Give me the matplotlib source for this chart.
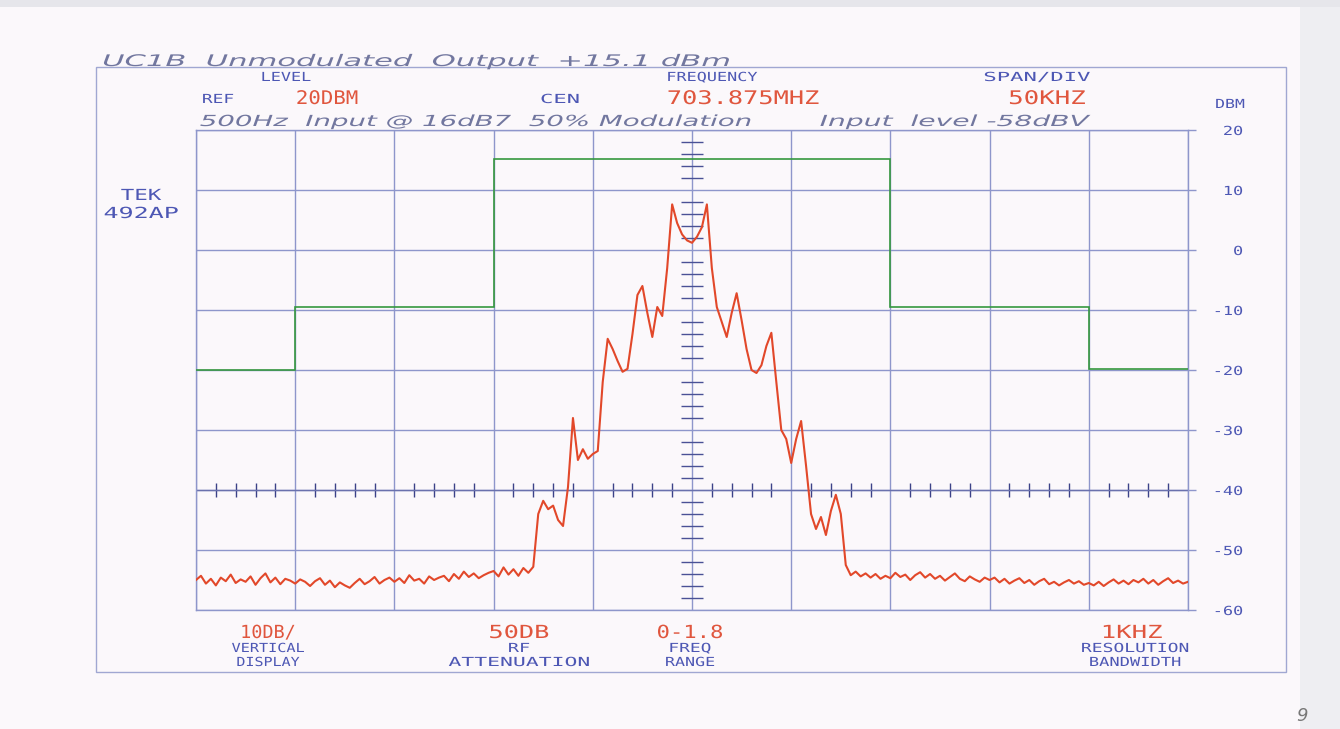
import numpy as np
import matplotlib
matplotlib.use("Agg")
import matplotlib.pyplot as plt
import matplotlib.patheffects as pe
from matplotlib.transforms import Affine2D
from matplotlib.patches import Rectangle

#################
#### Datos ######
#################
span_khz = [-250, 250]          # 50 kHz/div, centro 703.875 MHz
nivel_dbm = [-60, 20]           # 10 dB/div, ref 20 dBm
ticks_dbm = [20, 10, 0, -10, -20, -30, -40, -50, -60]

# mascara verde (escalones)
mascara_bordes_khz = [-250, -200, -100, 100, 200, 250]
mascara_dbm = [-20, -9.5, 15.2, -9.5, -19.8]

# trazo rojo: una muestra cada 2.5 kHz, de -250 a +250 kHz
paso_khz = 2.5
traza_dbm = [
    -55.0, -54.3, -55.6, -54.8, -55.9, -54.6, -55.2, -54.1, -55.5, -54.9,
    -55.3, -54.4, -55.8, -54.7, -53.9, -55.4, -54.6, -55.7, -54.8, -55.1,
    -55.6, -54.9, -55.3, -56.0, -55.2, -54.7, -55.8, -55.1, -56.2, -55.4,
    -55.9, -56.3, -55.5, -54.8, -55.7, -55.2, -54.5, -55.6, -55.0, -54.6,
    -55.3, -54.7, -55.5, -54.2, -55.1, -54.8, -55.6, -54.4, -55.0, -54.6,
    -54.3, -55.2, -54.0, -54.8, -53.6, -54.5, -53.9, -54.7, -54.2, -53.8,
    -53.5, -54.4, -52.9, -54.1, -53.2, -54.3, -53.0, -53.8, -52.8, -44.0,
    -41.8, -43.2, -42.6, -45.0, -46.0, -39.5, -28.0, -35.0, -33.2, -34.8,
    -34.0, -33.5, -22.0, -14.8, -16.5, -18.5, -20.3, -19.8, -14.0, -7.5,
    -6.0, -10.5, -14.5, -9.5, -11.0, -3.0, 7.6, 4.5, 2.6, 1.6,
    1.2, 2.2, 3.8, 7.6, -3.0, -9.5, -12.0, -14.5, -10.5, -7.2,
    -11.7, -16.5, -20.0, -20.5, -19.2, -16.0, -13.8, -22.0, -30.0, -31.5,
    -35.5, -31.5, -28.5, -36.0, -44.0, -46.5, -44.5, -47.5, -43.5, -40.8,
    -44.0, -52.5, -54.2, -53.6, -54.4, -53.9, -54.6, -54.0, -54.8, -54.3,
    -54.7, -53.8, -54.5, -54.1, -55.0, -54.2, -53.7, -54.6, -54.0, -54.8,
    -54.3, -55.1, -54.5, -53.9, -54.8, -55.2, -54.4, -54.9, -55.3, -54.6,
    -55.0, -54.6, -55.4, -54.8, -55.6, -55.1, -54.7, -55.5, -55.0, -55.8,
    -55.2, -54.8, -55.7, -55.3, -55.9, -55.4, -55.0, -55.6, -55.2, -55.8,
    -55.5, -55.9, -55.3, -56.0, -55.4, -54.9, -55.6, -55.1, -55.7, -55.0,
    -55.4, -54.8, -55.6, -55.0, -55.8, -55.2, -54.7, -55.5, -55.1, -55.6,
    -55.3,
]
traza_khz = span_khz[0] + paso_khz * np.arange(len(traza_dbm))

# colores
azul = "#4d57b4"
rojo_txt = "#e0563e"
rojo = "#e2482a"
verde = "#36983f"
reticula = "#8e96cb"
tinta = "#72779f"
papel = "#fbf8fb"

#################
### Utilidades ##
#################
class Estirar(pe.AbstractPathEffect):
    """Estira el texto en x (letra ancha de plotter)."""
    def __init__(self, ancho=None, factor=None, ancla="center"):
        super().__init__()
        self.ancho = ancho
        self.factor = factor
        self.ancla = ancla

    def draw_path(self, renderer, gc, tpath, affine, rgbFace=None):
        ext = tpath.get_extents()
        if self.ancho is not None:
            esc = affine.get_matrix()[0, 0]
            sx = self.ancho / max((ext.x1 - ext.x0) * esc, 1e-6)
        else:
            sx = self.factor
        cx = {"left": ext.x0, "right": ext.x1}.get(self.ancla, (ext.x0 + ext.x1) / 2)
        tr = Affine2D().translate(-cx, 0).scale(sx, 1).translate(cx, 0) + affine
        renderer.draw_path(gc, tpath, tr, rgbFace)


fig = plt.figure(figsize=(13.4, 7.29), dpi=100, facecolor=papel)

# hoja en pixeles
hoja = fig.add_axes([0, 0, 1, 1], zorder=0)
hoja.set_xlim(0, 1340)
hoja.set_ylim(729, 0)
hoja.axis("off")
hoja.add_patch(Rectangle((1300, 0), 40, 729, color="#eeeef2", lw=0))
hoja.add_patch(Rectangle((0, 0), 1340, 7, color="#e6e6eb", lw=0))
hoja.add_patch(Rectangle((96, 67), 1190, 605, fill=False, ec="#a0a7d2", lw=1.0))


def rotulo(x, y, s, ancho, color, size, ha="center", family="DejaVu Sans Mono", style="normal"):
    t = hoja.text(x, y, s, ha=ha, va="baseline", color=color, fontsize=size,
                  family=family, style=style)
    t.set_path_effects([Estirar(ancho=ancho, ancla=ha)])
    return t


# encabezado del analizador
rotulo(286, 81, "LEVEL", 48, azul, 9)
rotulo(712, 81, "FREQUENCY", 89, azul, 9)
rotulo(1037, 81, "SPAN/DIV", 105, azul, 9)
rotulo(218, 103, "REF", 30, azul, 9)
rotulo(560, 103, "CEN", 37, azul, 9)
rotulo(327, 104, "20DBM", 60, rojo_txt, 13.5)
rotulo(743, 104, "703.875MHZ", 150, rojo_txt, 13.5)
rotulo(1047, 104, "50KHZ", 75, rojo_txt, 13.5)
rotulo(1230, 108, "DBM", 28, azul, 9)
rotulo(141, 200, "TEK", 40, azul, 11)
rotulo(141, 218, "492AP", 73, azul, 11)

# pie
for xc, rojo_s, a1, l1, a2, l2, a3 in [
    (268, "10DB/", 52, "VERTICAL", 72, "DISPLAY", 62),
    (519, "50DB", 58, "RF", 20, "ATTENUATION", 140),
    (690, "0-1.8", 64, "FREQ", 40, "RANGE", 48),
    (1132, "1KHZ", 58, "RESOLUTION", 106, "BANDWIDTH", 90),
]:
    rotulo(xc, 638, rojo_s, a1, rojo_txt, 13)
    rotulo(xc + (3 if xc > 1000 else 0), 652, l1, a2, azul, 9)
    rotulo(xc + (3 if xc > 1000 else 0), 666, l2, a3, azul, 9)

# notas a mano
rotulo(103, 66, "UC1B  Unmodulated  Output  +15.1 dBm", 625, tinta, 11.5,
       ha="left", family="DejaVu Sans", style="oblique")
rotulo(200, 126, "500Hz  Input @ 16dB7  50% Modulation", 550, tinta, 11,
       ha="left", family="DejaVu Sans", style="oblique")
rotulo(820, 126, "Input  level -58dBV", 270, tinta, 11,
       ha="left", family="DejaVu Sans", style="oblique")
hoja.text(1302, 721, "9", ha="center", va="baseline", color="#777777",
          fontsize=13, family="DejaVu Sans", style="oblique")

#################
### Pantalla ####
#################
ax = fig.add_axes([196 / 1340, 1 - 610 / 729, 992 / 1340, 480 / 729], zorder=1)
ax.set_facecolor("none")
ax.set_xlim(span_khz)
ax.set_ylim(nivel_dbm)

ax.set_xticks(np.arange(span_khz[0], span_khz[1] + 1, 50))
ax.tick_params(axis="x", length=0, labelbottom=False)
ax.yaxis.tick_right()
ax.set_yticks(ticks_dbm, labels=[str(v) for v in ticks_dbm])
ax.tick_params(axis="y", direction="out", length=5.5, width=1.0, color=reticula,
               pad=34, labelcolor=azul, labelsize=9)
for lab in ax.get_yticklabels():
    lab.set_ha("right")
    lab.set_fontfamily("DejaVu Sans Mono")
    lab.set_path_effects([Estirar(factor=1.35, ancla="right")])

ax.grid(True, color=reticula, lw=1.0)
for sp in ax.spines.values():
    sp.set_color(reticula)
    sp.set_linewidth(1.0)

# marcas finas de la reticula central
marcas_y = [v for v in range(-58, 20, 2) if v % 10 != 0]
ax.hlines(marcas_y, -5.5, 5.5, color="#4a5196", lw=1.0, zorder=2)
marcas_x = [v for v in range(-240, 250, 10) if v % 50 != 0]
ax.vlines(marcas_x, -41.1, -38.9, color="#3c4288", lw=1.0, zorder=2)
ax.axhline(-40, color="#6a71ad", lw=1.0, zorder=2)

ax.stairs(mascara_dbm, mascara_bordes_khz, baseline=None, color=verde, lw=1.2, zorder=3)
ax.plot(traza_khz, traza_dbm, color=rojo, lw=1.5, zorder=4)

plt.savefig("out.png", dpi=100, facecolor=papel)
plt.close()
